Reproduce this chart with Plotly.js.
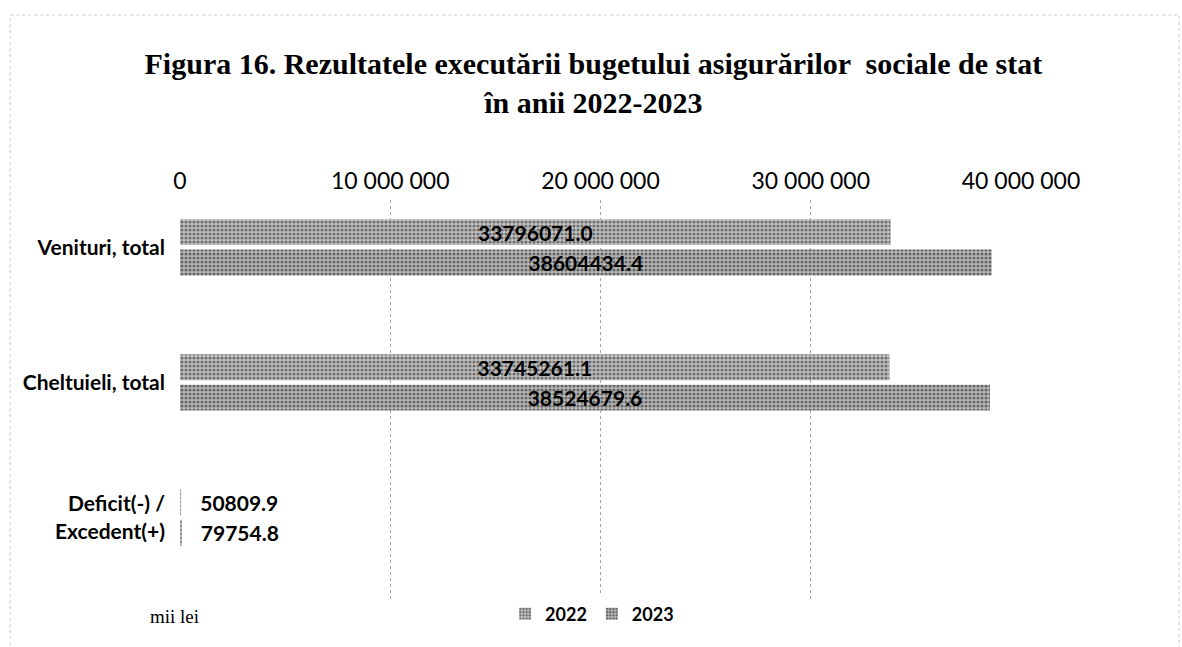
<!DOCTYPE html>
<html>
<head>
<meta charset="utf-8">
<script src="https://cdn.plot.ly/plotly-3.0.1.min.js"></script>
<style>
  html, body { margin: 0; padding: 0; background: #fff; }
  #chart { width: 1182px; height: 647px; }
</style>
</head>
<body>
<div id="chart"></div>
<script>
// ── Data ──────────────────────────────────────────────────────
const CATEGORIES = ["Venituri, total", "Cheltuieli, total", "Deficit(-) /<br>Excedent(+)"];
const VALUES_2022 = [33796071.0, 33745261.1, 50809.9];
const VALUES_2023 = [38604434.4, 38524679.6, 79754.8];
const SERIES_NAMES = ["2022", "2023"];
const X_TICKS = [0, 10000000, 20000000, 30000000, 40000000];

const SANS = "Lato, 'Open Sans', sans-serif";
const SERIF = "'Liberation Serif', 'Times New Roman', serif";
const LABEL_FONT = { family: SANS, size: 21, color: "#000" };

// small bars get their label pushed a bit off the axis
const LABEL_TEMPLATES = ["<b>%{x:.1f}</b>", "<b>%{x:.1f}</b>", "\u00a0\u00a0\u00a0<b>%{x:.1f}</b>"];

function barTrace(name, values, bg, fg) {
  return {
    type: "bar",
    orientation: "h",
    name: name,
    x: values,
    y: CATEGORIES,
    marker: {
      color: bg,
      line: { width: 0 },
      pattern: { shape: ".", bgcolor: bg, fgcolor: fg, size: 4, solidity: 0.5 },
    },
    texttemplate: LABEL_TEMPLATES,
    textposition: "auto",
    insidetextanchor: "middle",
    textangle: 0,
    constraintext: "none",
    cliponaxis: false,
    textfont: LABEL_FONT,
    insidetextfont: LABEL_FONT,
    outsidetextfont: LABEL_FONT,
    hovertemplate: "%{y}<br>" + name + ": %{x}<extra></extra>",
  };
}

const traces = [
  barTrace(SERIES_NAMES[0], VALUES_2022, "#c4c4c4", "#6f6f6f"),
  barTrace(SERIES_NAMES[1], VALUES_2023, "#bbbbbb", "#656565"),
];

const layout = {
  width: 1182,
  height: 647,
  paper_bgcolor: "#fff",
  plot_bgcolor: "#fff",
  separators: ". ",
  margin: { t: 200, r: 161, b: 47, l: 180 },
  title: {
    text: "<b>Figura 16. Rezultatele executării bugetului asigurărilor  sociale de stat<br>în anii 2022-2023</b>",
    font: { family: SERIF, size: 30, color: "#000" },
    x: 0.502, xref: "container", xanchor: "center",
    y: 0.885, yref: "container", yanchor: "top",
  },
  barmode: "group",
  bargap: 0.55,
  bargroupgap: 0.15,
  xaxis: {
    side: "top",
    range: [0, 40000000],
    tickvals: X_TICKS,
    tickformat: ",d",
    showgrid: true,
    gridcolor: "#a6a6a6",
    griddash: "dot",
    gridwidth: 1,
    zeroline: false,
    showline: false,
    ticks: "",
    ticklabelstandoff: 5,
    tickfont: { family: SANS, size: 23, color: "#000" },
    fixedrange: true,
  },
  yaxis: {
    type: "category",
    range: [2.61, -0.35],
    showgrid: false,
    zeroline: false,
    showline: false,
    ticks: "",
    ticklabelstandoff: 14,
    tickfont: { family: SANS, size: 21, color: "#000", weight: "bold" },
    fixedrange: true,
  },
  showlegend: true,
  legend: {
    orientation: "h",
    x: 0.49, xanchor: "center",
    y: -0.035, yanchor: "middle",
    font: { family: SANS, size: 18, color: "#000", weight: "bold" },
    itemwidth: 30,
    traceorder: "normal",
  },
  annotations: [
    {
      text: "mii lei",
      xref: "paper", yref: "paper",
      x: -0.007, y: -0.04,
      xanchor: "center", yanchor: "middle",
      showarrow: false,
      font: { family: SERIF, size: 19, color: "#000" },
    },
  ],
  shapes: [
    {
      type: "rect", xref: "paper", yref: "paper",
      x0: -0.202, x1: 1.188, y0: -0.2, y1: 1.4625,
      line: { color: "#c8c8c8", width: 1, dash: "dot" },
    },
  ],
};

Plotly.newPlot("chart", traces, layout, { displayModeBar: false, staticPlot: true });
</script>
</body>
</html>
